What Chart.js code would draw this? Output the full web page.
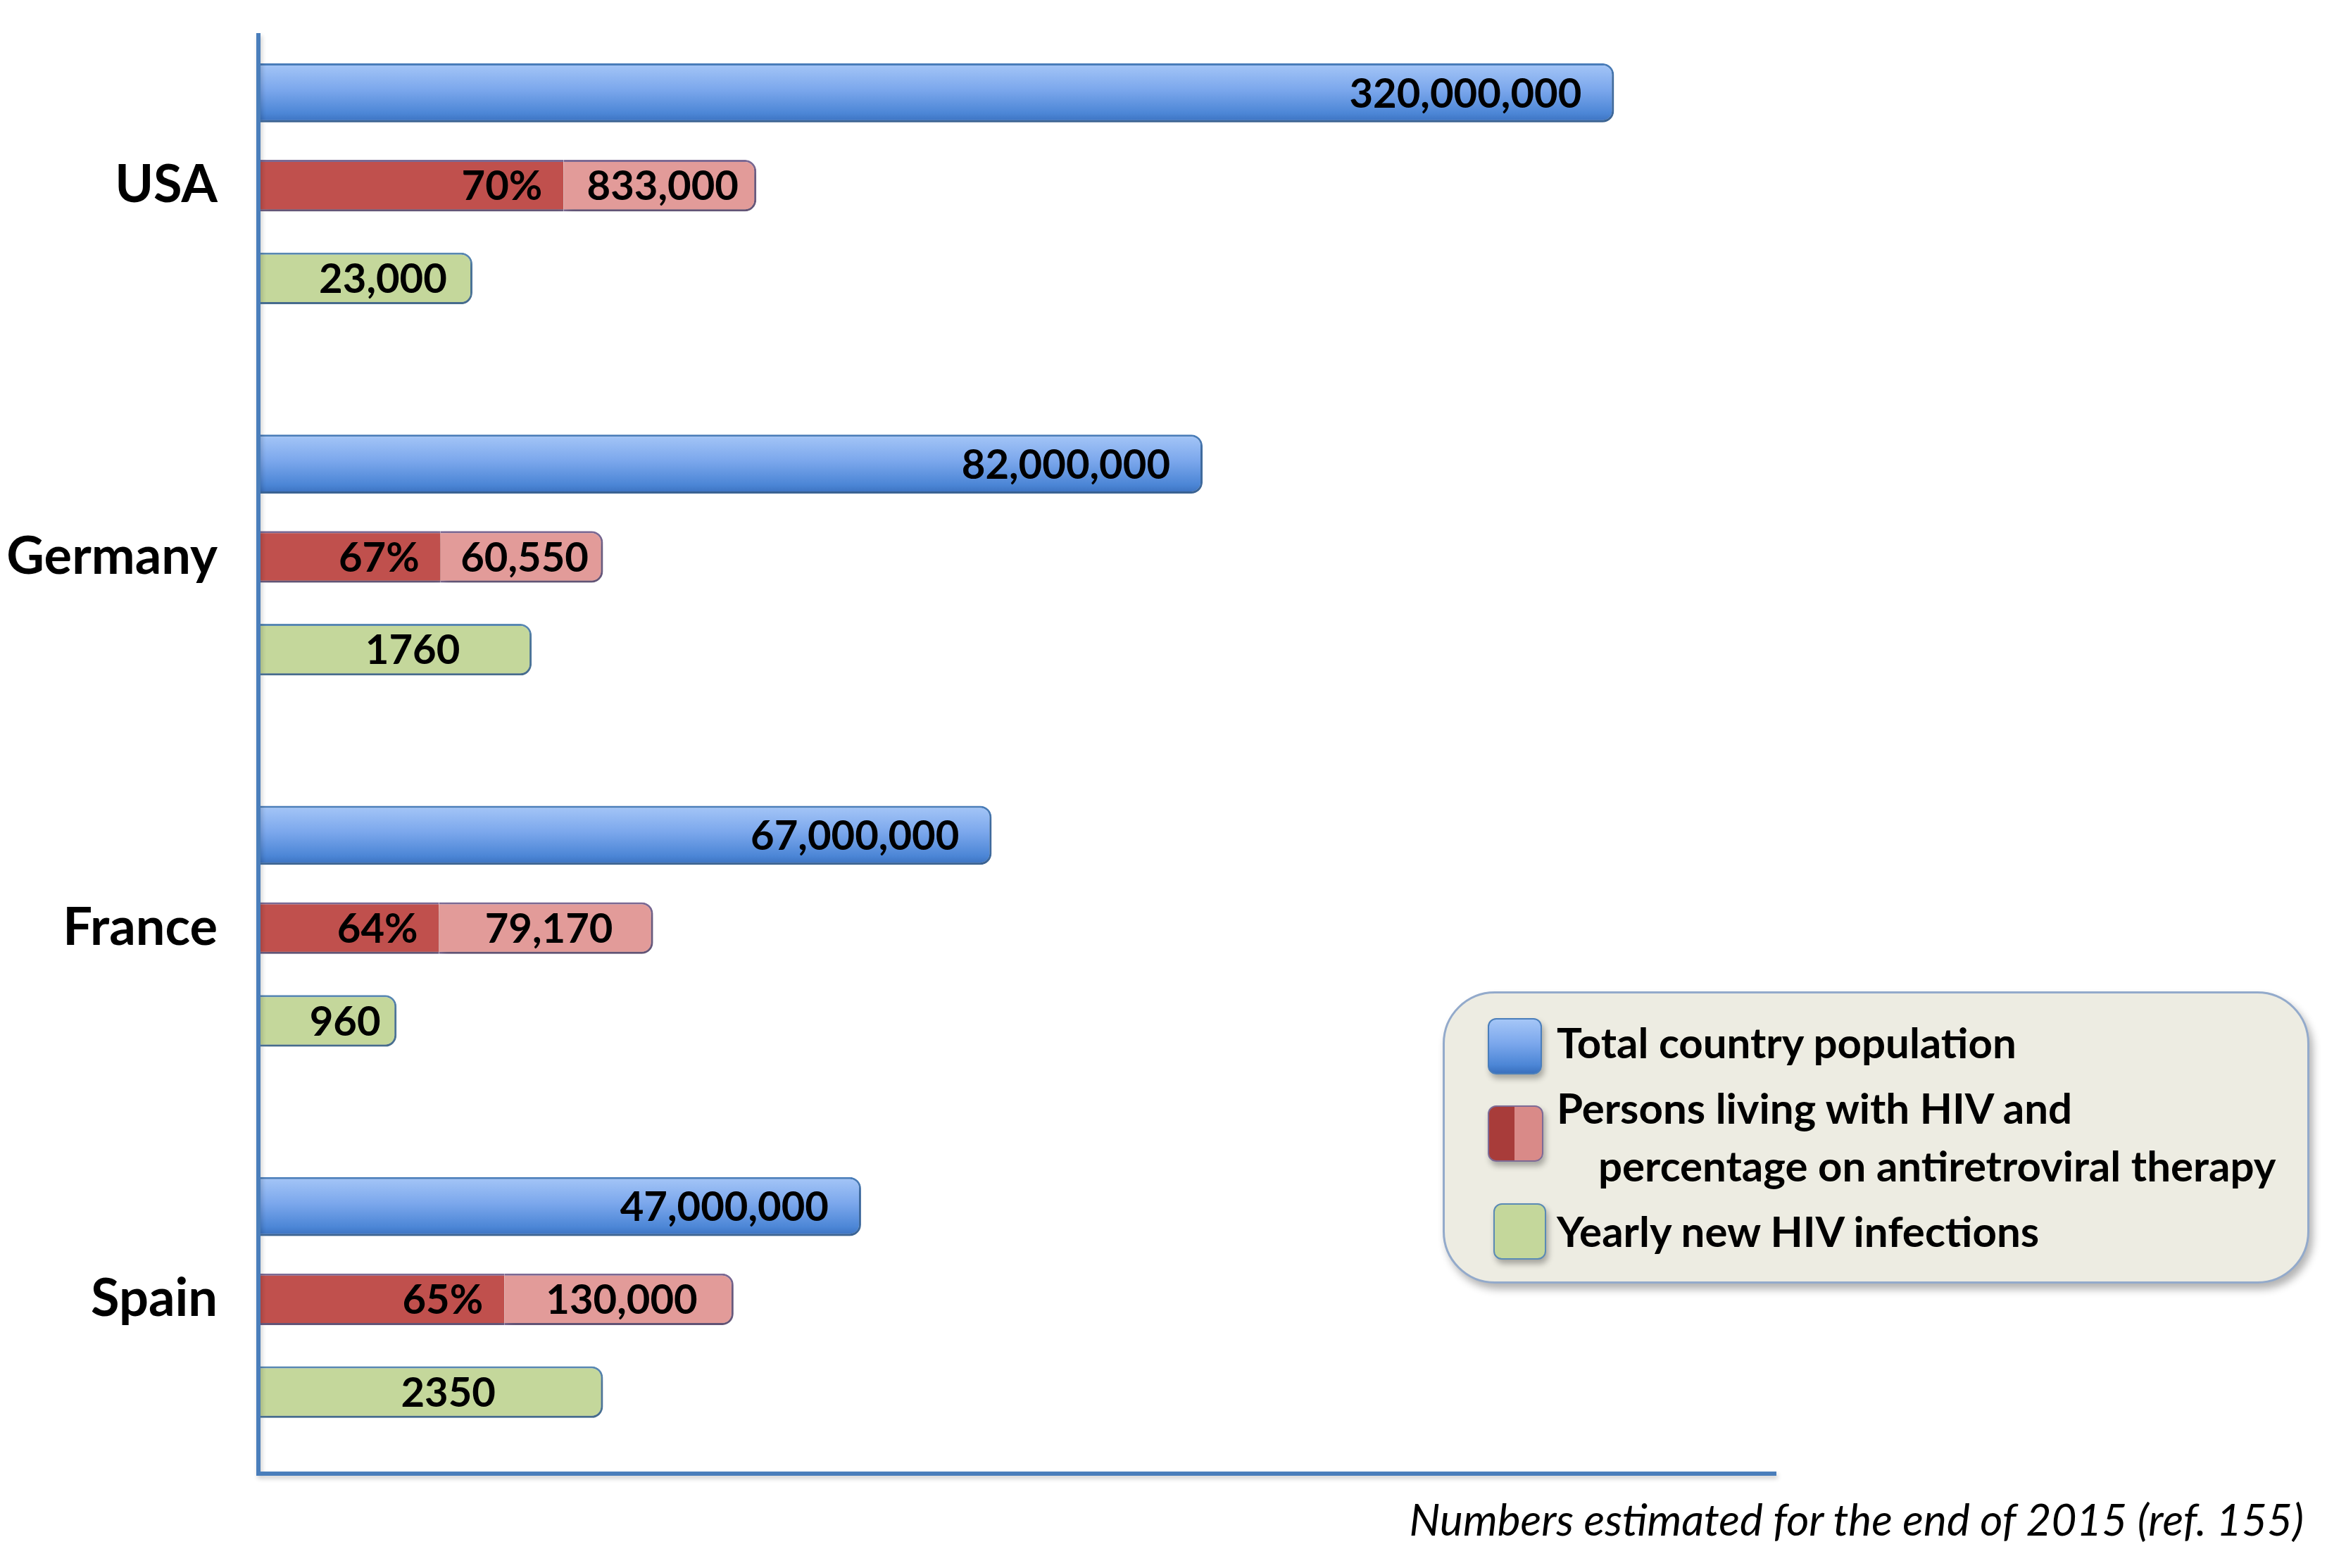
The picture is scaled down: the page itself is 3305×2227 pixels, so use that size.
<!DOCTYPE html>
<html>
<head>
<meta charset="utf-8">
<script src="https://cdn.jsdelivr.net/npm/chart.js@4.4.1/dist/chart.umd.min.js"></script>
<style>
  body { margin: 0; background: #fff; }
  #wrap { position: relative; width: 3305px; height: 2227px; }
  #legend {
    position: absolute; left: 2049px; top: 1408px; width: 1231px; height: 415px;
    box-sizing: border-box; border: 3px solid #93aacb; border-radius: 74px;
    background: #edece2; box-shadow: 5px 8px 12px rgba(0,0,0,.3);
    font: bold 60px Lato, sans-serif; color: #000;
  }
  #legend .txt { position: absolute; height: 64px; line-height: 64px; white-space: nowrap; }
  #legend .sw { position: absolute; border-radius: 12px; box-shadow: 3px 6px 8px rgba(0,0,0,.3); }
  #note {
    position: absolute; right: 33px; top: 2120px; height: 64px; line-height: 64px;
    font: italic 62px Lato, sans-serif; color: #000; white-space: nowrap;
  }
</style>
</head>
<body>
<div id="wrap">
  <canvas id="chart"></canvas>
  <div id="legend">
    <div class="sw" style="left:61px;top:35px;width:73px;height:76px;border:2px solid #4a7ebb;background:linear-gradient(#a5c6f7,#7ba7ec 45%,#4c86d6 85%,#3a70be);"></div>
    <div class="txt" style="left:159px;top:37px;">Total country population</div>
    <div class="sw" style="left:61px;top:159px;width:75px;height:76px;border:2px solid #7d6b96;background:linear-gradient(90deg,#a83c3a 0 48%,#d98a88 48%);"></div>
    <div class="txt" style="left:159px;top:130px;">Persons living with HIV and</div>
    <div class="txt" style="left:218px;top:212px;">percentage on antiretroviral therapy</div>
    <div class="sw" style="left:69px;top:298px;width:71px;height:76px;border:2px solid #5a8ab5;background:#c4d79b;"></div>
    <div class="txt" style="left:159px;top:305px;">Yearly new HIV infections</div>
  </div>
  <div id="note">Numbers estimated for the end of 2015 (ref. 155)</div>
</div>
<script>
// Données
const countries = ['USA', 'Germany', 'France', 'Spain'];
const popLabels = ['320,000,000', '82,000,000', '67,000,000', '47,000,000'];
const hivLabels = ['833,000', '60,550', '79,170', '130,000'];
const artLabels = ['70%', '67%', '64%', '65%'];
const newLabels = ['23,000', '1760', '960', '2350'];

// bar lengths as drawn in the picture (schematic, not to scale), axis = 0..100
const popLen = [89.3, 62.2, 48.3, 39.7];
const artLen = [20.1, 12.0, 11.9, 16.2];
const hivRestLen = [12.7, 10.7, 14.1, 15.1];
const newLen = [14.1, 18.0, 9.1, 22.7];

function blueGradient(c) {
  const chart = c.chart;
  const bar = chart.getDatasetMeta(c.datasetIndex).data[c.dataIndex];
  if (!bar || bar.y == null || !bar.height) return '#6f9fe6';
  const top = bar.y - bar.height / 2;
  const g = chart.ctx.createLinearGradient(0, top, 0, top + bar.height);
  g.addColorStop(0, '#a5c6f7');
  g.addColorStop(0.45, '#7ba7ec');
  g.addColorStop(0.85, '#4c86d6');
  g.addColorStop(1, '#3a70be');
  return g;
}

// ombre sous les barres
const shadow = {
  id: 'shadow',
  beforeDatasetsDraw(chart) {
    const ctx = chart.ctx;
    ctx.save();
    ctx.shadowColor = 'rgba(0,0,0,0.25)';
    ctx.shadowBlur = 12;
    ctx.shadowOffsetX = 4;
    ctx.shadowOffsetY = 8;
  },
  afterDatasetsDraw(chart) { chart.ctx.restore(); }
};

// textes dans les barres + axes
const overlay = {
  id: 'overlay',
  afterDraw(chart) {
    const ctx = chart.ctx;
    const a = chart.chartArea;
    ctx.save();
    ctx.strokeStyle = '#4a7ebb';
    ctx.lineWidth = 6;
    ctx.shadowColor = 'rgba(0,0,0,0.2)';
    ctx.shadowBlur = 6;
    ctx.shadowOffsetX = 2;
    ctx.shadowOffsetY = 4;
    ctx.beginPath();
    ctx.moveTo(a.left, a.top + 47);
    ctx.lineTo(a.left, a.bottom - 16);
    ctx.lineTo(a.right, a.bottom - 16);
    ctx.stroke();
    ctx.restore();

    ctx.save();
    ctx.font = 'bold 58px Lato';
    ctx.fillStyle = '#000';
    ctx.textBaseline = 'middle';
    chart.data.datasets.forEach((ds, i) => {
      chart.getDatasetMeta(i).data.forEach((bar, j) => {
        const txt = ds.texts[j];
        if (ds.textPos === 'end') {
          ctx.textAlign = 'right';
          ctx.fillText(txt, bar.x - ds.textGap, bar.y + 2);
        } else {
          ctx.textAlign = 'center';
          ctx.fillText(txt, (bar.x + bar.base) / 2 + ds.textGap, bar.y + 2);
        }
      });
    });
    ctx.restore();
  }
};

const common = { categoryPercentage: 0.75, borderSkipped: 'start' };

function build() {
  const chart = new Chart(document.getElementById('chart'), {
    type: 'bar',
    data: {
      labels: countries,
      datasets: [
        Object.assign({
          label: 'Total country population', data: popLen, stack: 'pop',
          barPercentage: 0.635, backgroundColor: blueGradient,
          borderColor: '#4a7ebb', borderWidth: 3, borderRadius: 16,
          texts: popLabels, textPos: 'end', textGap: 46
        }, common),
        Object.assign({
          label: 'On antiretroviral therapy', data: artLen, stack: 'hiv',
          barPercentage: 0.556, backgroundColor: '#c0504d',
          borderColor: '#7d6b96', borderWidth: { top: 3, bottom: 3, left: 0, right: 0 },
          borderRadius: 16, texts: artLabels, textPos: 'end', textGap: 30
        }, common),
        Object.assign({
          label: 'Persons living with HIV', data: hivRestLen, stack: 'hiv',
          barPercentage: 0.556, backgroundColor: '#e29b99',
          borderColor: '#7d6b96', borderWidth: { top: 3, bottom: 3, left: 0, right: 3 },
          borderRadius: 16, texts: hivLabels, textPos: 'center', textGap: 4
        }, common),
        Object.assign({
          label: 'Yearly new HIV infections', data: newLen, stack: 'new',
          barPercentage: 0.556, backgroundColor: '#c4d79b',
          borderColor: '#5a8ab5', borderWidth: 3, borderRadius: 16,
          texts: newLabels, textPos: 'center', textGap: 25
        }, common)
      ]
    },
    options: {
      indexAxis: 'y',
      responsive: true,
      maintainAspectRatio: false,
      animation: false,
      layout: { padding: { left: 0, right: 782, top: -15, bottom: 118 } },
      plugins: { legend: { display: false }, tooltip: { enabled: false } },
      scales: {
        x: { display: false, stacked: true, min: 0, max: 100 },
        y: {
          stacked: true,
          grid: { display: false },
          border: { display: false },
          ticks: { color: '#000', font: { family: 'Lato', weight: 'bold', size: 74 }, padding: 50 },
          afterFit(scale) {
            scale.width = 367;
            scale.paddingTop = 0;
            scale.paddingBottom = 0;
          }
        }
      }
    },
    plugins: [shadow, overlay]
  });
  chart.update(); // 2e passe pour le dégradé
}

Promise.all([
  document.fonts.load('bold 74px Lato'),
  document.fonts.load('bold 58px Lato'),
  document.fonts.load('italic 62px Lato')
]).then(build, build);
</script>
</body>
</html>
